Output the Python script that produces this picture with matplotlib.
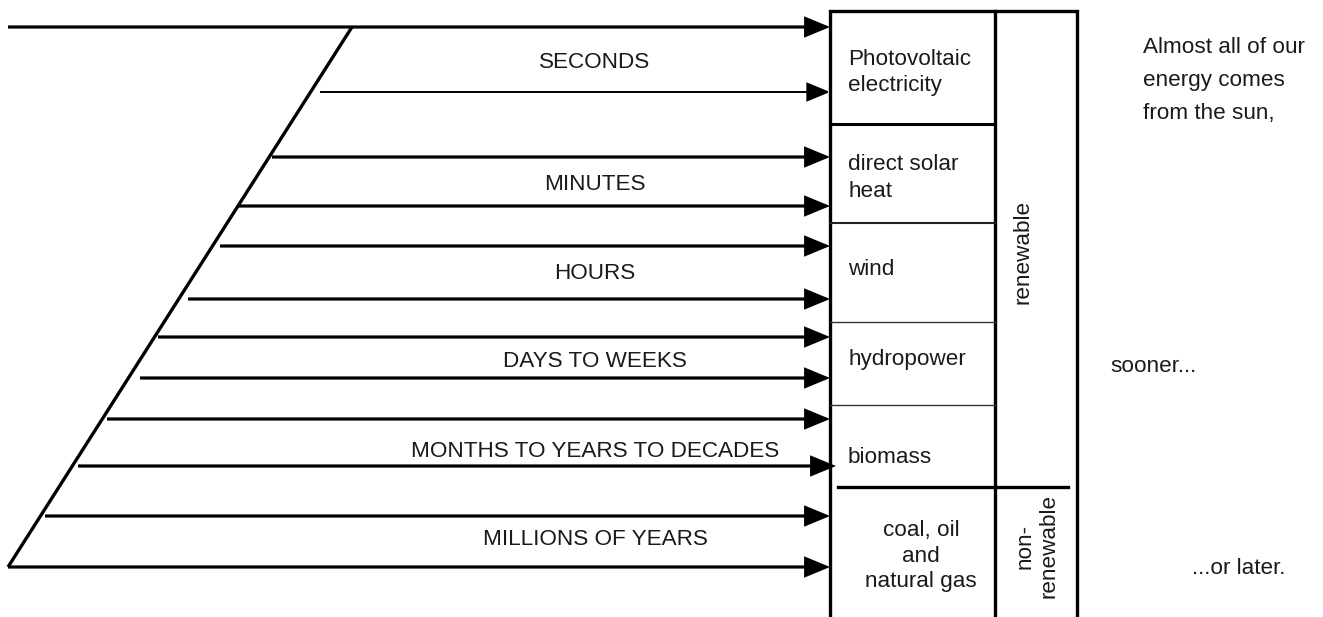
import matplotlib
matplotlib.use("Agg")
import matplotlib.pyplot as plt
from matplotlib.patches import FancyArrowPatch

plt.rcParams['font.family'] = ['Liberation Sans', 'DejaVu Sans']

# ---- data (pixel-space diagram geometry) ----
arrow_y = [27, 92, 157, 206, 246, 299, 337, 378, 419, 466, 516, 567]
arrow_x0 = [8, 320, 272, 238, 220, 188, 158, 140, 107, 78, 45, 8]
arrow_x1 = [830, 830, 830, 830, 830, 830, 830, 830, 830, 836, 830, 830]
arrow_lw = [2.3, 1.4, 2.3, 2.3, 2.3, 2.3, 2.3, 2.3, 2.3, 2.3, 2.3, 2.3]

timescale_labels = ["SECONDS", "MINUTES", "HOURS", "DAYS TO WEEKS",
                    "MONTHS TO YEARS TO DECADES", "MILLIONS OF YEARS"]
timescale_baseline = [68, 190, 279, 367, 457, 545]

source_lines = ["Photovoltaic", "electricity", "direct solar", "heat", "wind",
                "hydropower", "biomass"]
source_baseline = [65, 91, 170, 197, 275, 365, 463]

fossil_lines = ["coal, oil", "and", "natural gas"]
fossil_baseline = [536, 562, 587]

note_lines = ["Almost all of our", "energy comes", "from the sun,"]
note_baseline = [53, 86, 119]
sooner_text = "sooner..."
later_text = "...or later."

fig = plt.figure(figsize=(13.23, 6.17), dpi=100)
ax = fig.add_axes([0, 0, 1, 1])
ax.set_xlim(0, 1323)
ax.set_ylim(617, 0)
ax.axis('off')

K = 'black'
TC = '#1a1a1a'
fs = 16.2

# diagonal
ax.plot([352, 8], [27, 567], color=K, lw=2.4, solid_capstyle='butt')

for y, x0, x1, lw in zip(arrow_y, arrow_x0, arrow_x1, arrow_lw):
    ax.add_patch(FancyArrowPatch((x0, y), (x1, y),
                                 arrowstyle='-|>,head_length=1.45,head_width=0.6',
                                 mutation_scale=10, lw=lw, color=K,
                                 shrinkA=0, shrinkB=0, joinstyle='miter',
                                 capstyle='butt'))

for lab, yb in zip(timescale_labels, timescale_baseline):
    ax.text(595, yb, lab, ha='center', va='baseline', fontsize=fs, color=TC)

# box
ax.plot([830, 830, 1077, 1077], [617, 11, 11, 617], color=K, lw=2.4,
        solid_joinstyle='miter')
ax.plot([995, 995], [11, 617], color=K, lw=2.4)
ax.plot([830, 995], [124, 124], color=K, lw=2.2)
ax.plot([830, 995], [223, 223], color='#222222', lw=1.5)
for yy in [322, 405]:
    ax.plot([830, 995], [yy, yy], color='#333333', lw=1.0)
ax.plot([838, 1068], [487, 487], color=K, lw=2.4)

for lab, yb in zip(source_lines, source_baseline):
    ax.text(848, yb, lab, ha='left', va='baseline', fontsize=fs, color=TC)
for lab, yb in zip(fossil_lines, fossil_baseline):
    ax.text(921, yb, lab, ha='center', va='baseline', fontsize=fs, color=TC)

ax.text(1023, 252, "renewable", ha='center', va='center', rotation=90,
        fontsize=fs, color=TC)
ax.text(1037, 546, "non-\nrenewable", ha='center', va='center', rotation=90,
        fontsize=fs, color=TC, linespacing=1.15)

for lab, yb in zip(note_lines, note_baseline):
    ax.text(1143, yb, lab, ha='left', va='baseline', fontsize=fs, color=TC)
ax.text(1110, 372, sooner_text, ha='left', va='baseline', fontsize=fs, color=TC)
ax.text(1192, 574, later_text, ha='left', va='baseline', fontsize=fs, color=TC)

fig.savefig("out.png", dpi=100, facecolor='white')
